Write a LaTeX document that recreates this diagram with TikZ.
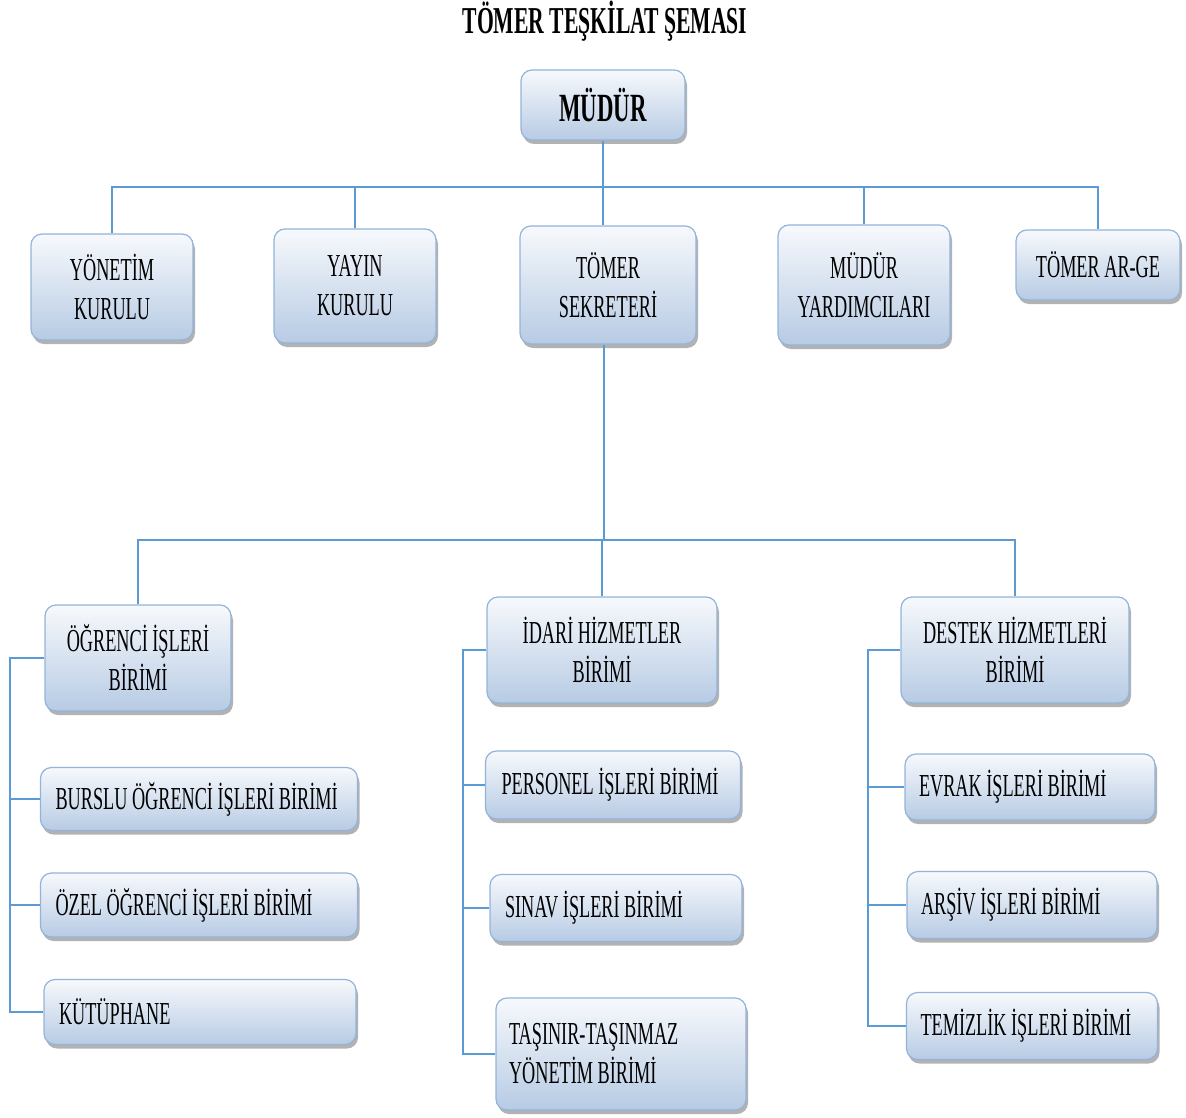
\documentclass[tikz,border=0pt]{standalone}
\usepackage{fontspec}
\setmainfont{Liberation Serif}[FakeStretch=0.57]
\usetikzlibrary{shadows}

\definecolor{boxtop}{HTML}{F7F9FC}
\definecolor{boxbot}{HTML}{B7CBE4}
\definecolor{boxline}{HTML}{93B3DA}
\definecolor{linkblue}{HTML}{5B9BD5}

\tikzset{
  unit/.style={rounded corners=11pt, draw=boxline, line width=1.2pt,
    top color=boxtop, bottom color=boxbot,
    drop shadow={shadow xshift=2pt, shadow yshift=-4pt, fill=black!55, opacity=.55},
    font=\fontsize{32}{39}\selectfont, align=center, inner sep=0pt},
  leftunit/.style={unit, align=none, inner xsep=15pt},
  link/.style={draw=linkblue, line width=1.1pt}
}

\begin{document}
\begin{tikzpicture}[x=1pt, y=-1pt]

\useasboundingbox (0, 0) rectangle (1186, 1118);

% Title
\node (title) at (605, 21) {\fontsize{38}{40}\selectfont\bfseries TÖMER TEŞKİLAT ŞEMASI};

% Top level
\node[unit, minimum width=164pt, minimum height=70pt] (mudur) at (603, 105)
  {\fontsize{40}{42}\selectfont\bfseries MÜDÜR};

\node[unit, minimum width=162pt, minimum height=106pt] (yonetim) at (112, 287) {YÖNETİM\\KURULU};
\node[unit, minimum width=162pt, minimum height=114pt] (yayin) at (355, 286) {YAYIN\\KURULU};
\node[unit, minimum width=176pt, minimum height=118pt] (sekreter) at (608, 285) {TÖMER\\SEKRETERİ};
\node[unit, minimum width=172pt, minimum height=120pt] (yardimci) at (864, 285) {MÜDÜR\\YARDIMCILARI};
\node[unit, minimum width=164pt, minimum height=70pt] (arge) at (1098, 265) {TÖMER AR-GE};

% Units
\node[unit, minimum width=186pt, minimum height=106pt] (ogrenci) at (138, 658) {ÖĞRENCİ İŞLERİ\\BİRİMİ};
\node[unit, minimum width=230pt, minimum height=106pt] (idari) at (602, 650) {İDARİ HİZMETLER\\BİRİMİ};
\node[unit, minimum width=228pt, minimum height=106pt] (destek) at (1015, 650) {DESTEK HİZMETLERİ\\BİRİMİ};

% Sub units
\node[leftunit, text width=287pt, minimum height=63pt] (burslu) at (199, 799) {\mbox{BURSLU ÖĞRENCİ İŞLERİ BİRİMİ}};
\node[leftunit, text width=287pt, minimum height=64pt] (ozel) at (199, 905) {\mbox{ÖZEL ÖĞRENCİ İŞLERİ BİRİMİ}};
\node[leftunit, text width=282pt, minimum height=65pt] (kutup) at (200, 1012) {KÜTÜPHANE};

\node[leftunit, text width=223pt, minimum height=68pt, inner xsep=16pt] (personel) at (613, 785) {\mbox{PERSONEL İŞLERİ BİRİMİ}};
\node[leftunit, text width=222pt, minimum height=67pt] (sinav) at (616, 908) {\mbox{SINAV İŞLERİ BİRİMİ}};
\node[leftunit, text width=224pt, minimum height=112pt, inner xsep=13pt] (tasinir) at (621, 1054) {\mbox{TAŞINIR-TAŞINMAZ}\\\mbox{YÖNETİM BİRİMİ}};

\node[leftunit, text width=222pt, minimum height=66pt, inner xsep=14pt] (evrak) at (1030, 787) {\mbox{EVRAK İŞLERİ BİRİMİ}};
\node[leftunit, text width=222pt, minimum height=67pt, inner xsep=14pt] (arsiv) at (1032, 905) {\mbox{ARŞİV İŞLERİ BİRİMİ}};
\node[leftunit, text width=223pt, minimum height=67pt, inner xsep=14pt] (temizlik) at (1032, 1026) {\mbox{TEMİZLİK İŞLERİ BİRİMİ}};

% Buses
\coordinate (bus1) at (0, 187);
\coordinate (bus2) at (0, 540);
\coordinate (lrail) at (10, 0);
\coordinate (mrail) at (463, 0);
\coordinate (rrail) at (868, 0);

% Links, top
\draw[link] (mudur.south) -- (mudur.south |- sekreter.north);
\draw[link] (yonetim.north) -- (yonetim.north |- bus1) -- (arge.north |- bus1) -- (arge.north);
\foreach \n in {yayin, yardimci}
  \draw[link] (\n.north) -- (\n.north |- bus1);

% Links, units
\draw[link] ([xshift=-4pt]sekreter.south) -- ([xshift=-4pt]sekreter.south |- bus2);
\draw[link] (ogrenci.north) -- (ogrenci.north |- bus2) -- (destek.north |- bus2) -- (destek.north);
\draw[link] (idari.north) -- (idari.north |- bus2);

% Links, sub units
\draw[link] (ogrenci.west) -- (lrail |- ogrenci.west) -- (lrail |- kutup.west) -- (kutup.west);
\foreach \n in {burslu, ozel}
  \draw[link] (lrail |- \n.west) -- (\n.west);

\draw[link] (idari.west) -- (mrail |- idari.west) -- (mrail |- tasinir.west) -- (tasinir.west);
\foreach \n in {personel, sinav}
  \draw[link] (mrail |- \n.west) -- (\n.west);

\draw[link] (destek.west) -- (rrail |- destek.west) -- (rrail |- temizlik.west) -- (temizlik.west);
\foreach \n in {evrak, arsiv}
  \draw[link] (rrail |- \n.west) -- (\n.west);

\end{tikzpicture}
\end{document}
